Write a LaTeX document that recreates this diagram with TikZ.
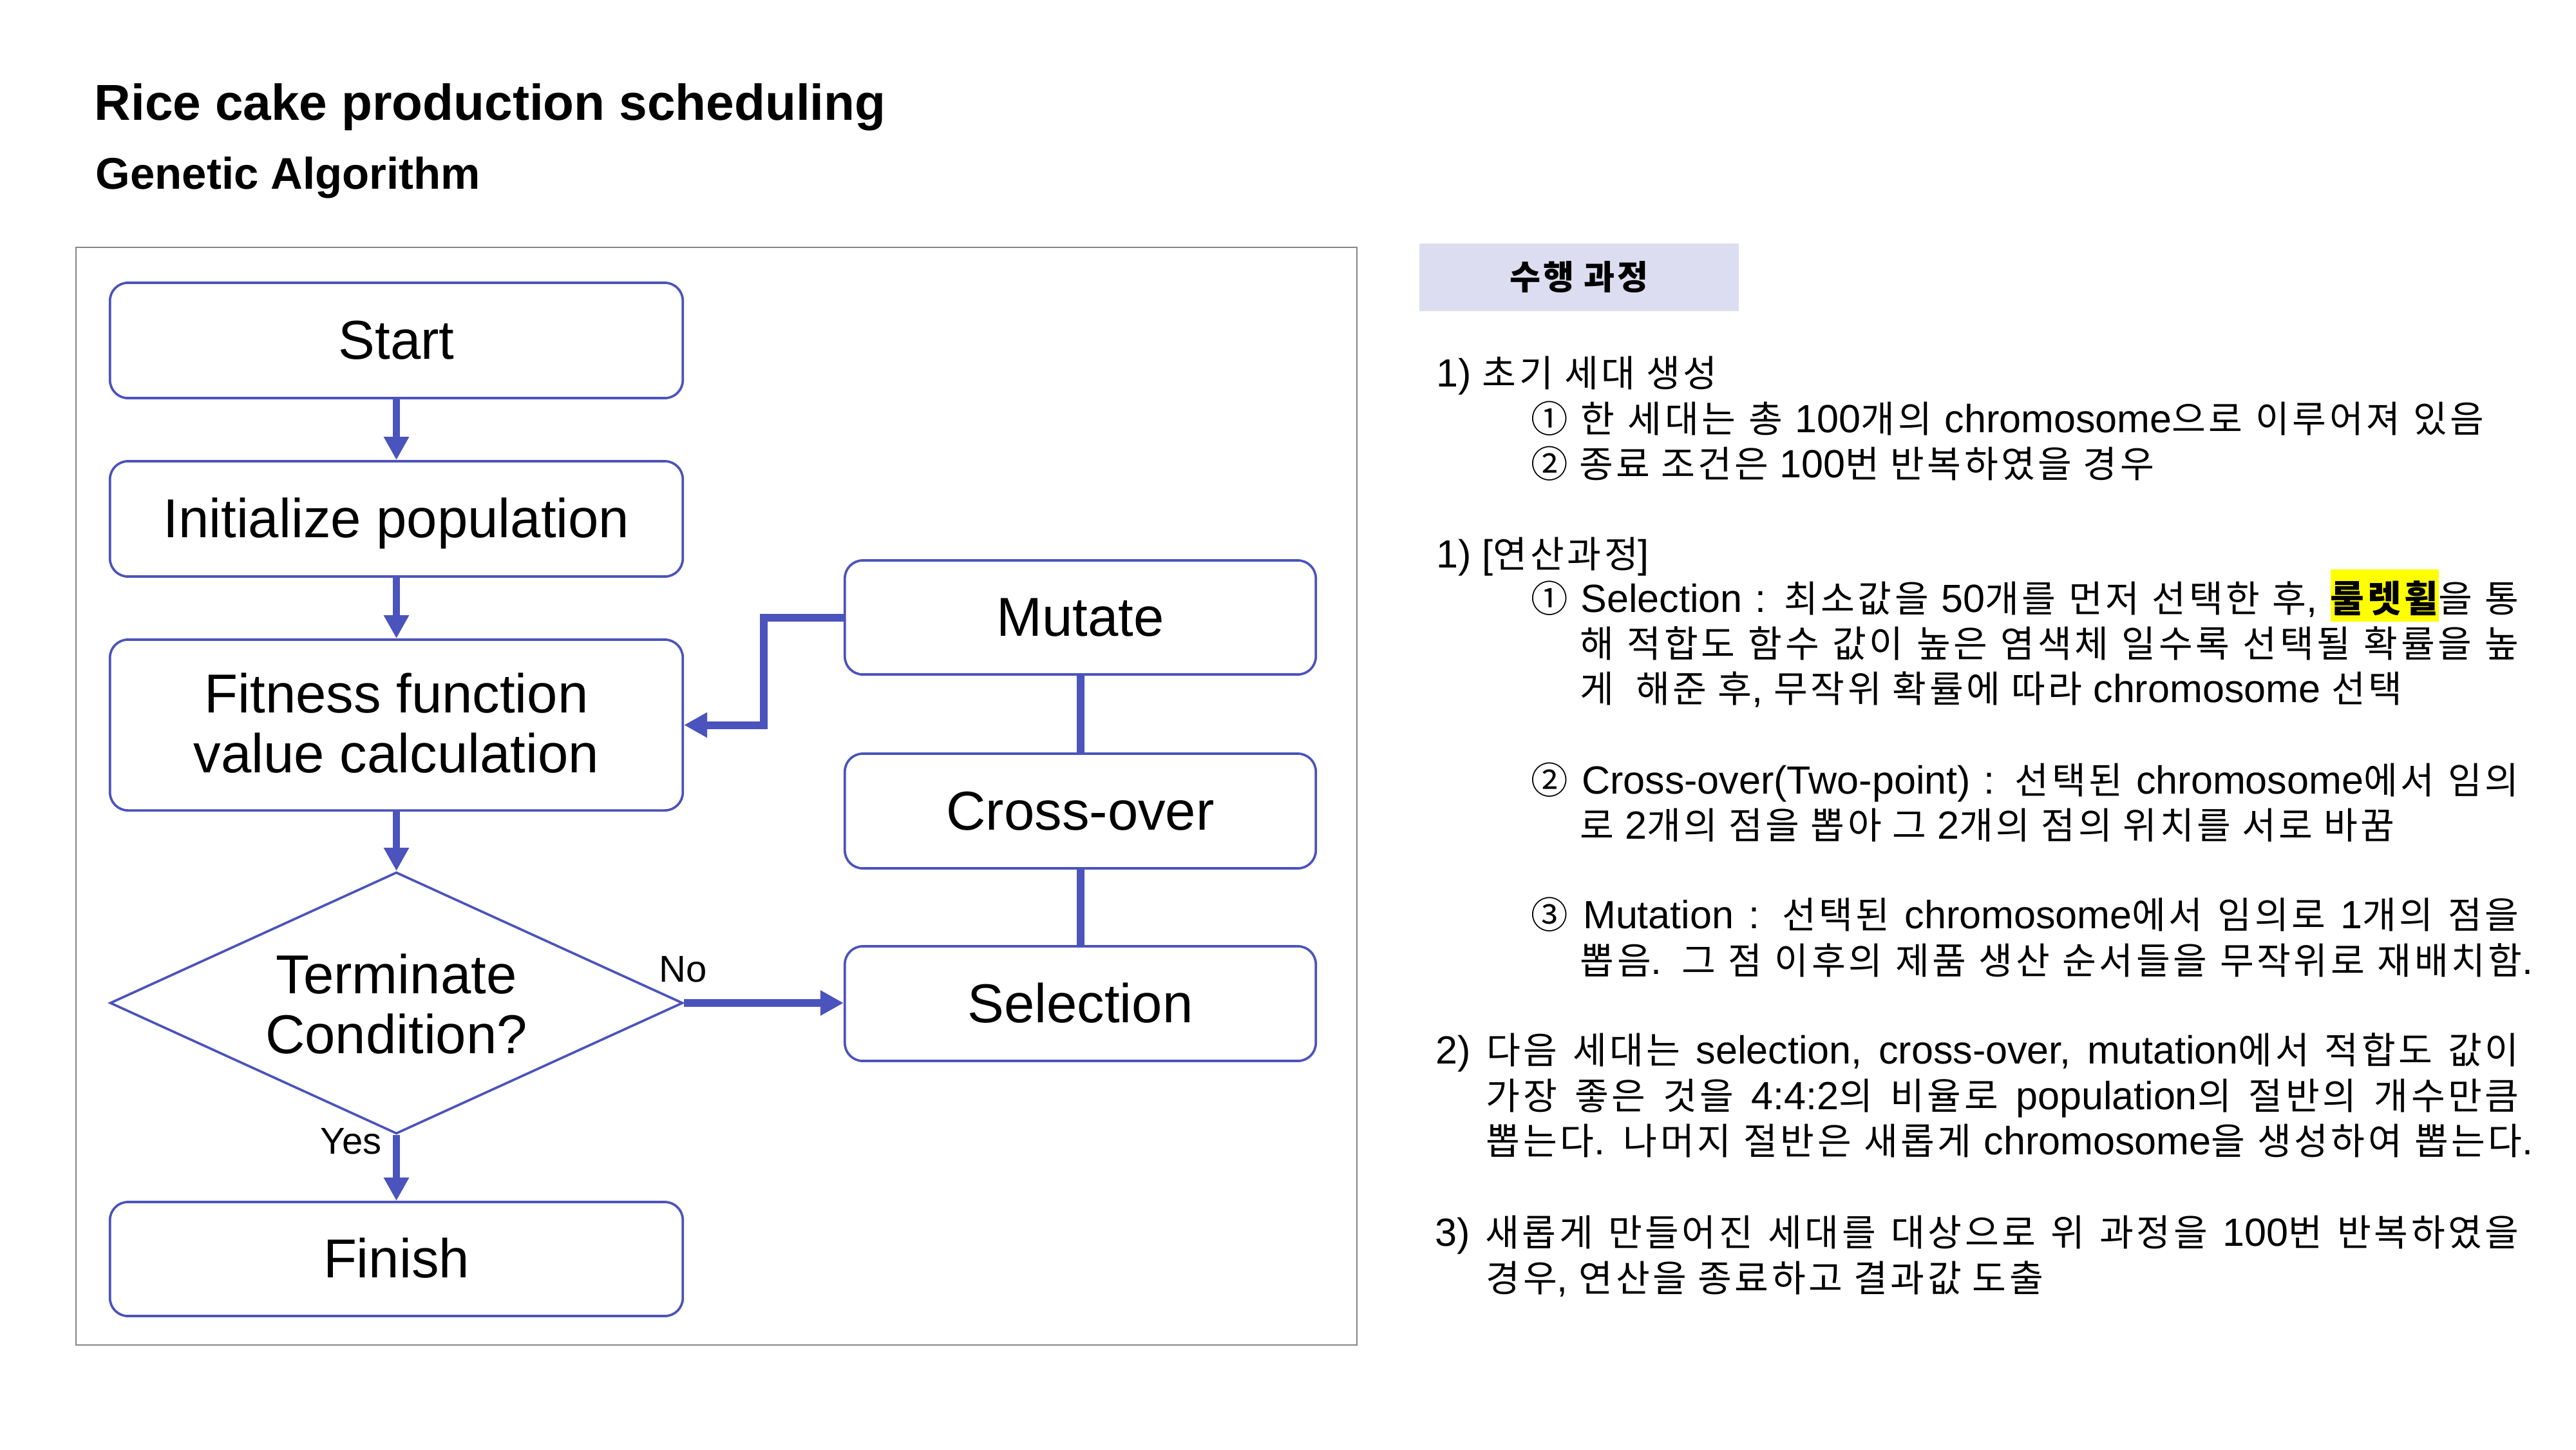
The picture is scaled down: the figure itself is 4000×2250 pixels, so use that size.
\documentclass[tikz,border=0pt]{standalone}
\usepackage{fontspec}
\setmainfont{Liberation Sans}
\newfontfamily\latfont{Liberation Sans}
\newfontfamily\krfont[Scale=0.94,LetterSpace=8]{Noto Sans CJK KR}
\usetikzlibrary{arrows.meta,shapes.geometric}
\definecolor{flow}{RGB}{75,83,188}
\definecolor{framegray}{RGB}{134,134,134}
\definecolor{hdr}{RGB}{220,221,240}
\definecolor{hl}{RGB}{255,255,0}
\newcount\krcnt
\XeTeXinterchartokenstate=1
\newXeTeXintercharclass\KRclass
\krcnt="AC00
\loop \XeTeXcharclass\krcnt=\KRclass \ifnum\krcnt<"D7A3 \advance\krcnt by 1 \repeat
\krcnt="2460
\loop \XeTeXcharclass\krcnt=\KRclass \ifnum\krcnt<"2473 \advance\krcnt by 1 \repeat
\krcnt="21
\loop \XeTeXcharclass\krcnt=0 \ifnum\krcnt<"7E \advance\krcnt by 1 \repeat
\XeTeXinterchartoks 0 \KRclass={\krfont}
\XeTeXinterchartoks 4095 \KRclass={\krfont}
\XeTeXinterchartoks \KRclass 0={\latfont}
\XeTeXinterchartoks \KRclass 4095={\latfont}
\newcommand\jstretch[2]{\makebox[#1][s]{#2}}
\newcommand\hlword[1]{{\setlength\fboxsep{0pt}\colorbox{hl}{\rule[-0.15cm]{0pt}{0.81cm}\bfseries #1}}}
\begin{document}
\begin{tikzpicture}[x=0.01cm,y=-0.01cm,
  box/.style={draw=flow, line width=1.05pt, rounded corners=0.28cm, fill=white, inner sep=0pt,
    font=\fontsize{24.2}{26.46}\selectfont},
  onel/.style={text height=0.58cm, text depth=0cm},
  dia/.style={shape=diamond, draw=flow, line width=1.05pt, fill=white, inner sep=0pt, aspect=2.19,
    minimum width=8.89cm, minimum height=4.06cm, align=center, font=\fontsize{24.2}{26.46}\selectfont},
  conn/.style={draw=flow, line width=3.4pt},
  arr/.style={-{Triangle[length=0.36cm,width=0.37cm]}},
  rtxt/.style={anchor=base west, inner sep=0pt, font=\fontsize{17.36}{20}\selectfont},
  lbl/.style={anchor=base west, inner sep=0pt, font=\fontsize{16.5}{18}\selectfont},
  ttl/.style={anchor=base west, inner sep=0pt},
]
\useasboundingbox (0,0) rectangle (4000,2250);

% titles
\node[ttl, font=\bfseries\fontsize{22.3}{26}\selectfont] (title) at (146,186) {Rice cake production scheduling};
\node[ttl, font=\bfseries\fontsize{19.6}{22}\selectfont] (subtitle) at (148,293) {Genetic Algorithm};

% frame
\draw[draw=framegray, line width=0.77pt] (118,384) rectangle (2107,2088);

% flowchart nodes
\node[box,onel,minimum width=8.89cm,minimum height=1.79cm] (start) at (615.5,528.5) {Start};
\node[box,onel,minimum width=8.89cm,minimum height=1.79cm] (init) at (615.5,805.5) {Initialize population};
\node[box,align=center,minimum width=8.89cm,minimum height=2.65cm] (fit) at (615.5,1125.5)
  {\rule{0pt}{0.64cm}Fitness function\\value calculation\rule[-0.1cm]{0pt}{0.1cm}};
\node[dia] (cond) at (615.5,1557) {\rule{0pt}{0.64cm}Terminate\\Condition?};
\node[box,onel,minimum width=8.89cm,minimum height=1.77cm] (fin) at (615.5,1954.5) {Finish};
\node[box,onel,minimum width=7.31cm,minimum height=1.77cm] (mut) at (1677.5,958.5) {Mutate};
\node[box,onel,minimum width=7.31cm,minimum height=1.78cm] (cro) at (1677.5,1259) {Cross-over};
\node[box,onel,minimum width=7.31cm,minimum height=1.78cm] (sel) at (1677.5,1558) {Selection};

% connectors
\draw[conn,arr] (start.south) -- (init.north);
\draw[conn,arr] (init.south) -- (fit.north);
\draw[conn,arr] (fit.south) -- (cond.north);
\draw[conn,arr] (cond.south) -- (fin.north);
\draw[conn,arr] (cond.east) -- (cond.east -| sel.west);
\draw[conn] (mut.south) -- (cro.north);
\draw[conn] (cro.south) -- (sel.north);
\draw[conn,arr] (mut.west) -- ++(-124,0) |- (fit.east);

% labels
\node[lbl] (no) at (1023,1524) {No};
\node[lbl] (yes) at (497,1791) {Yes};

% right panel
\node[fill=hdr, inner sep=0pt, minimum width=4.95cm, minimum height=1.05cm, text height=0.37cm, text depth=0cm,
  font=\bfseries\fontsize{15.8}{18}\selectfont] (hdr) at (2452,430.5) {수행 과정};

\node[rtxt] (l1) at (2230,600) {1) 초기 세대 생성};
\node[rtxt] (l2) at (2377,671) {\jstretch{14.79cm}{① 한 세대는 총 100개의 chromosome으로 이루어져 있음}};
\node[rtxt] (l3) at (2377,741) {② 종료 조건은 100번 반복하였을 경우};
\node[rtxt] (l4) at (2230,881) {1) [연산과정]};
\node[rtxt] (l5) at (2377,950) {\jstretch{15.33cm}{① Selection : 최소값을 50개를 먼저 선택한 후, \hlword{룰렛휠}을 통}};
\node[rtxt] (l6) at (2453,1020) {\jstretch{14.57cm}{해 적합도 함수 값이 높은 염색체 일수록 선택될 확률을 높}};
\node[rtxt] (l7) at (2453,1090) {게\ \ 해준 후, 무작위 확률에 따라 chromosome 선택};
\node[rtxt] (l8) at (2377,1232) {\jstretch{15.33cm}{② Cross-over(Two-point) : 선택된 chromosome에서 임의}};
\node[rtxt] (l9) at (2453,1302) {로 2개의 점을 뽑아 그 2개의 점의 위치를 서로 바꿈};
\node[rtxt] (l10) at (2377,1441) {\jstretch{15.33cm}{③ Mutation : 선택된 chromosome에서 임의로 1개의 점을}};
\node[rtxt] (l11) at (2453,1512) {\jstretch{14.79cm}{뽑음. 그 점 이후의 제품 생산 순서들을 무작위로 재배치함.}};
\node[rtxt] (l12) at (2229,1651) {\jstretch{16.81cm}{2) 다음 세대는 selection, cross-over, mutation에서 적합도 값이}};
\node[rtxt] (l13) at (2307,1722) {\jstretch{16.03cm}{가장 좋은 것을 4:4:2의 비율로 population의 절반의 개수만큼}};
\node[rtxt] (l14) at (2307,1792) {\jstretch{16.25cm}{뽑는다. 나머지 절반은 새롭게 chromosome을 생성하여 뽑는다.}};
\node[rtxt] (l15) at (2228,1934) {\jstretch{16.82cm}{3) 새롭게 만들어진 세대를 대상으로 위 과정을 100번 반복하였을}};
\node[rtxt] (l16) at (2307,2005) {경우, 연산을 종료하고 결과값 도출};
\end{tikzpicture}
\end{document}
